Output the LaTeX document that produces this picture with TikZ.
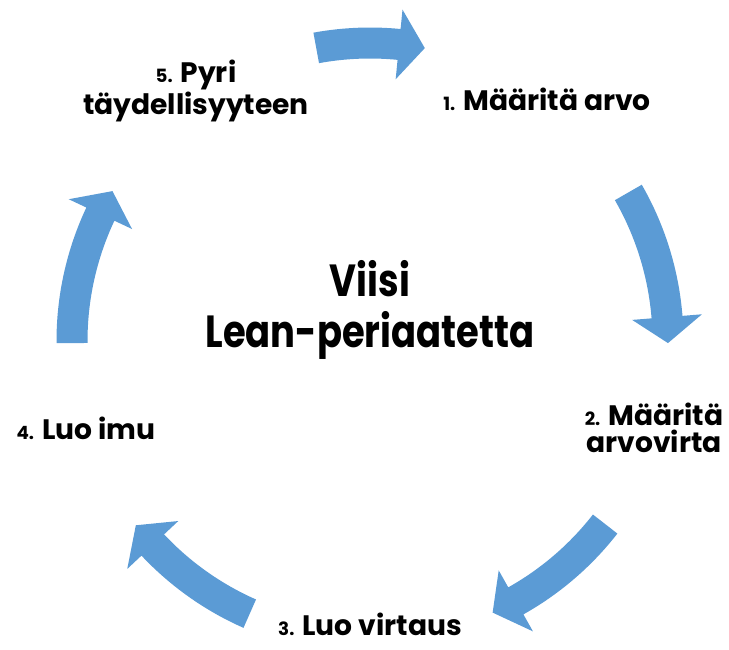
\documentclass[tikz,border=0pt]{standalone}
\usepackage{fontspec}
\setmainfont{Poppins}
\newfontfamily\titlefont{Poppins}[FakeStretch=0.82]
\definecolor{cycleblue}{RGB}{91,155,213}
\newcommand{\stepnum}[1]{{\fontsize{13}{13}\selectfont #1.}}
\tikzset{
  steplabel/.style={font=\fontsize{20}{19}\selectfont\bfseries, align=center, anchor=base, inner sep=0pt},
  titlelabel/.style={font=\titlefont\fontsize{32}{35.6}\selectfont\bfseries, align=center, anchor=base, inner sep=0pt}
}
\begin{document}
\begin{tikzpicture}[x=0.025cm, y=-0.025cm]
  \useasboundingbox (0,0) rectangle (729,650);

  % curved arrows around the cycle
  \begin{scope}[shift={(370,341)}]
    \foreach \a/\b in {-100.4/-79.4, -29.9/0.4, 37.9/65.7, 113.8/141.8, 179.6/210.2}{
      \fill[cycleblue] (\a:313.5) arc[start angle=\a, end angle=\b-5, radius=313.5]
        -- (\b-5:333) -- (\b:298) -- (\b-5:263) -- (\b-5:282.5)
        arc[start angle=\b-5, end angle=\a, radius=282.5] -- cycle;
    }
  \end{scope}

  % base anchor sits on the last line
  \node[titlelabel] (title) at (370,347) {Viisi\\Lean-periaatetta};

  \node[steplabel] (define) at (547,110) {\stepnum{1} Määritä arvo};
  \node[steplabel] (stream) at (654,452) {\stepnum{2} Määritä\\arvovirta};
  \node[steplabel] (flow) at (370,635) {\stepnum{3} Luo virtaus};
  \node[steplabel] (pull) at (86,439) {\stepnum{4} Luo imu};
  \node[steplabel] (perfect) at (196,114) {\stepnum{5} Pyri\\täydellisyyteen};
\end{tikzpicture}
\end{document}
